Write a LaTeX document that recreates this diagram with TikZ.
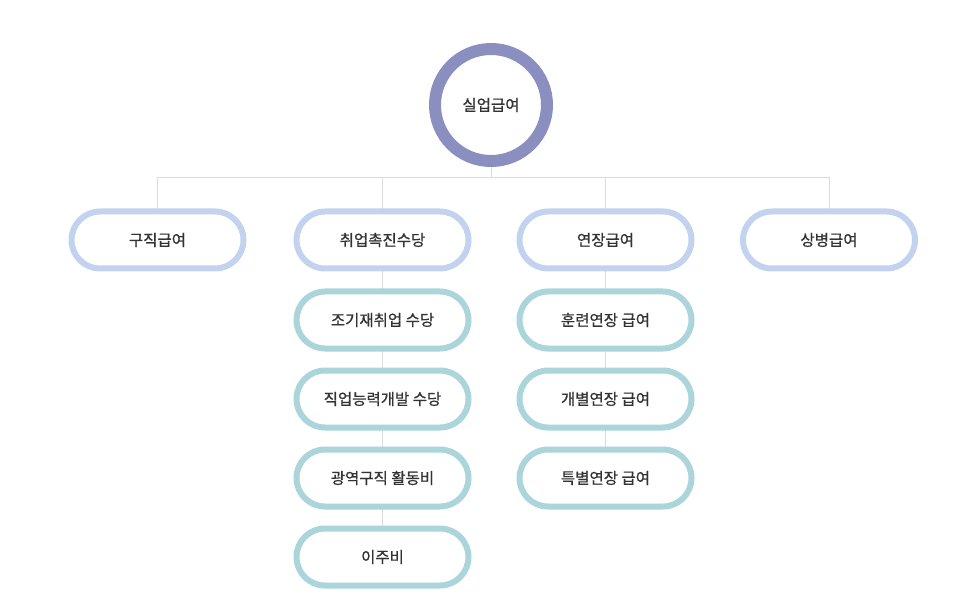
\documentclass[tikz,border=0pt]{standalone}
\usepackage{fontspec}
\setmainfont{Noto Sans CJK KR}
\newfontfamily\kfont[FakeBold=0.8]{Noto Sans CJK KR}
\usetikzlibrary{backgrounds}
\definecolor{ringc}{HTML}{8A8FBF}
\definecolor{topc}{HTML}{C2D2EF}
\definecolor{subc}{HTML}{ABD4DB}
\definecolor{linec}{HTML}{DCDCDC}
\definecolor{txtc}{HTML}{333333}
\tikzset{
  topbox/.style={draw=topc, fill=white, line width=6pt, rounded corners=28.5pt,
    minimum width=172pt, minimum height=57pt, inner sep=0pt, text=txtc,
    font=\kfont\fontsize{15.5pt}{17pt}\selectfont},
  subbox/.style={topbox, draw=subc},
  conn/.style={draw=linec, line width=1pt}
}
\begin{document}
\begin{tikzpicture}[x=1pt,y=-1pt]
\useasboundingbox (0,0) rectangle (961,612);
\node[circle, draw=ringc, line width=12pt, fill=white, minimum size=112pt, inner sep=0pt,
  text=txtc, font=\kfont\fontsize{15.5pt}{17pt}\selectfont] (root) at (491,105) {실업급여};
\coordinate (j) at (491,178);
\node[topbox] (b1) at (157.5,240) {구직급여};
\node[topbox] (b2) at (382.5,240) {취업촉진수당};
\node[topbox] (b3) at (605.5,240) {연장급여};
\node[topbox] (b4) at (829,240) {상병급여};
\node[subbox] (c1) at (382.5,320) {조기재취업 수당};
\node[subbox] (c2) at (382.5,399) {직업능력개발 수당};
\node[subbox] (c3) at (382.5,478) {광역구직 활동비};
\node[subbox] (c4) at (382.5,557) {이주비};
\node[subbox] (d1) at (605.5,320) {훈련연장 급여};
\node[subbox] (d2) at (605.5,399) {개별연장 급여};
\node[subbox] (d3) at (605.5,478) {특별연장 급여};
\begin{scope}[on background layer]
\draw[conn] (root.center) -- (j);
\draw[conn] (b1.center) -- (b1.center |- j) -- (b4.center |- j) -- (b4.center);
\draw[conn] (b2.center) -- (b2.center |- j);
\draw[conn] (b3.center) -- (b3.center |- j);
\draw[conn] (b2.center) -- (c4.center);
\draw[conn] (b3.center) -- (d3.center);
\end{scope}
\end{tikzpicture}
\end{document}
